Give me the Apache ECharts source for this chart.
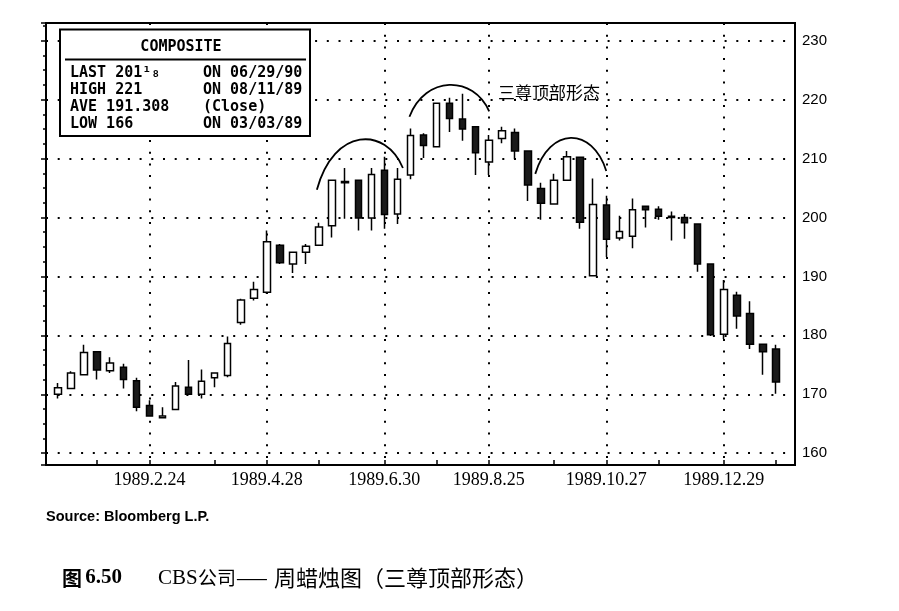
<!DOCTYPE html>
<html><head><meta charset="utf-8">
<script src="https://cdn.jsdelivr.net/npm/echarts@6/dist/echarts.min.js"></script>
<style>html,body{margin:0;padding:0;background:#fff}#c{width:899px;height:611px}</style>
</head><body><div id="c"></div>
<script>
// Weekly candles, CBS 1989
const weeks = ['1989.1.6','1989.1.13','1989.1.20','1989.1.27','1989.2.3','1989.2.10','1989.2.17','1989.2.24',
  '1989.3.3','1989.3.10','1989.3.17','1989.3.24','1989.3.31','1989.4.7','1989.4.14','1989.4.21','1989.4.28',
  '1989.5.5','1989.5.12','1989.5.19','1989.5.26','1989.6.2','1989.6.9','1989.6.16','1989.6.23','1989.6.30',
  '1989.7.7','1989.7.14','1989.7.21','1989.7.28','1989.8.4','1989.8.11','1989.8.18','1989.8.25',
  '1989.9.1','1989.9.8','1989.9.15','1989.9.22','1989.9.29','1989.10.6','1989.10.13','1989.10.20','1989.10.27',
  '1989.11.3','1989.11.10','1989.11.17','1989.11.24','1989.12.1','1989.12.8','1989.12.15','1989.12.22','1989.12.29',
  '1990.1.5','1990.1.12','1990.1.19','1990.1.26'];
const opens  = [170.0,171.0,173.3,177.2,174.0,174.6,172.3,168.1,166.0,167.4,171.2,170.0,172.8,173.2,182.2,186.3,187.3,
  195.3,192.1,194.1,195.3,198.6,205.9,206.3,199.9,208.0,200.6,207.2,214.0,212.0,219.4,216.7,215.4,209.4,
  213.4,214.4,211.3,204.9,202.3,206.3,210.2,190.1,202.1,196.5,196.8,201.9,201.4,200.2,200.0,198.9,192.1,
  180.2,186.8,183.7,178.5,177.7];
const closes = [171.1,173.6,177.1,174.1,175.3,172.5,167.8,166.3,166.3,171.4,170.0,172.2,173.6,178.6,186.0,187.8,195.9,
  192.3,194.1,195.1,198.4,206.3,206.1,199.9,207.3,200.5,206.5,213.9,212.2,219.4,216.8,215.0,211.0,213.1,
  214.7,211.3,205.5,202.4,206.3,210.3,199.2,202.2,196.3,197.6,201.3,201.3,200.2,200.0,199.1,192.1,180.1,
  187.8,183.3,178.5,177.2,172.1];
const lows   = [169.3,171.0,173.3,172.5,173.6,171.0,167.1,166.3,166.0,167.4,170.0,169.3,171.2,172.9,181.8,185.9,187.0,
  192.1,190.6,192.1,195.2,196.6,199.8,197.8,197.8,198.1,198.9,206.5,210.1,212.0,214.5,213.0,207.2,207.2,
  212.6,209.9,202.8,199.6,202.3,206.3,198.1,190.1,193.3,196.1,194.8,198.3,199.6,196.1,196.4,190.8,179.9,
  179.4,181.1,177.7,173.3,170.1];
const highs  = [171.9,173.9,178.4,177.3,176.3,175.2,172.8,169.0,167.8,172.1,175.8,174.2,173.7,179.8,186.2,189.1,197.8,
  195.5,194.1,195.5,199.1,206.4,208.4,206.3,208.4,210.3,208.4,215.1,214.3,219.5,220.3,221.0,215.4,214.0,
  215.4,215.1,211.4,205.9,207.4,211.3,210.2,206.6,203.7,200.3,203.2,201.9,201.9,201.0,200.6,198.9,192.1,
  189.4,187.4,185.8,178.5,178.4];
const labelDates = ['1989.2.24','1989.4.28','1989.6.30','1989.8.25','1989.10.27','1989.12.29'];
const tickDates = ['1989.1.27','1989.2.24','1989.3.31','1989.4.28','1989.5.26','1989.6.30','1989.7.28',
  '1989.8.25','1989.9.29','1989.10.27','1989.11.24','1989.12.29','1990.1.26'];
const yMin = 158, yMax = 233;
// legend box rows
const boxTitle = 'COMPOSITE';
const boxLeft  = ['LAST 201\u00b9\u2088','HIGH 221','AVE 191.308','LOW 166'];
const boxNotes = ['ON 06/29/90','ON 08/11/89','(Close)','ON 03/03/89'];
// three-top arcs: [startIndex, startValue], peakValue, [endIndex, endValue]
const arcStarts = [[19.83,204.7],[26.92,217.1],[36.56,207.4]];
const arcPeaks  = [213.2,222.5,213.5];
const arcEnds   = [[26.42,208.4],[33.03,218.0],[42.0,207.9]];
const patternLabel = '三尊顶部形态';
const sourceText = 'Source: Bloomberg L.P.';

const candles = weeks.map((d, i) => [opens[i], closes[i], lows[i], highs[i]]);
const chart = echarts.init(document.getElementById('c'), null, {renderer: 'canvas'});
const dots = {type: [2, 9.7], width: 2, color: '#000'};

chart.setOption({
  animation: false,
  backgroundColor: '#fff',
  grid: [
    {left: 46, right: 104, top: 23, bottom: 146, show: true, borderColor: '#000', borderWidth: 2, backgroundColor: 'transparent'},
    {left: 58, right: 123, top: 23, bottom: 146}
  ],
  xAxis: [
    {gridIndex: 0, type: 'value', min: 0, max: 1, axisLine: {show: true, lineStyle: {color: '#000', width: 2}},
     axisTick: {show: false}, axisLabel: {show: false}, splitLine: {show: false}},
    {gridIndex: 1, type: 'category', data: weeks, boundaryGap: false,
     axisLine: {show: false},
     axisTick: {show: true, inside: true, length: 5, lineStyle: {color: '#000', width: 1.5},
       interval: (i, v) => tickDates.includes(v)},
     axisLabel: {interval: (i, v) => labelDates.includes(v), color: '#000', fontFamily: 'Liberation Serif',
       fontSize: 18, margin: 6},
     splitLine: {show: true, interval: (i, v) => labelDates.includes(v), lineStyle: dots}}
  ],
  yAxis: [
    {gridIndex: 0, type: 'value', position: 'right', min: yMin, max: yMax, minInterval: 10, maxInterval: 10, splitNumber: 8,
     axisLine: {show: true, lineStyle: {color: '#000', width: 2}},
     axisTick: {show: true, inside: true, length: 5, lineStyle: {color: '#000', width: 1.5}},
     minorTick: {show: true, splitNumber: 4, length: 3, lineStyle: {color: '#000', width: 1.5}},
     axisLabel: {color: '#000', fontFamily: 'Liberation Sans', fontSize: 15, margin: 7,
       formatter: v => (v % 10 === 0 ? String(v) : '')},
     splitLine: {show: true, lineStyle: dots}},
    {gridIndex: 1, type: 'value', min: yMin, max: yMax, show: false}
  ],
  series: [{
    type: 'candlestick', xAxisIndex: 1, yAxisIndex: 1, data: candles, barWidth: 7, clip: false,
    itemStyle: {color: '#fff', color0: '#1a1a1a', borderColor: '#000', borderColor0: '#000', borderWidth: 1.5}
  }]
});

function px(idx, val) {
  const n = weeks.length - 1;
  const a = chart.convertToPixel({xAxisIndex: 1, yAxisIndex: 1}, [0, val]);
  const b = chart.convertToPixel({xAxisIndex: 1, yAxisIndex: 1}, [n, val]);
  return [a[0] + (b[0] - a[0]) * idx / n, a[1]];
}

const g = [];
arcStarts.forEach((s, k) => {
  const S = px(s[0], s[1]);
  const E = px(arcEnds[k][0], arcEnds[k][1]);
  const P = px((s[0] + arcEnds[k][0]) / 2, arcPeaks[k]);
  const cy = (P[1] - (S[1] + E[1]) / 8) / 0.75;
  const w = E[0] - S[0];
  g.push({type: 'bezierCurve', z: 50,
    shape: {x1: S[0], y1: S[1], x2: E[0], y2: E[1], cpx1: S[0] + 0.2 * w, cpy1: cy, cpx2: E[0] - 0.2 * w, cpy2: cy},
    style: {stroke: '#000', lineWidth: 1.8, fill: null}});
});
g.push({type: 'text', z: 50, x: 498, y: 93, style: {text: patternLabel, fill: '#000',
  font: '17px "Noto Sans CJK SC"', verticalAlign: 'middle', align: 'left'}});

// legend box
const bf = 'bold 15px "DejaVu Sans Mono"';
g.push({type: 'rect', z: 60, shape: {x: 60, y: 29.5, width: 250, height: 106.5},
  style: {fill: '#fff', stroke: '#000', lineWidth: 2}});
g.push({type: 'text', z: 61, x: 181, y: 47, style: {text: boxTitle, fill: '#000',
  font: bf, align: 'center', verticalAlign: 'middle'}});
g.push({type: 'line', z: 61, shape: {x1: 65, y1: 59.5, x2: 306, y2: 59.5}, style: {stroke: '#000', lineWidth: 2}});
boxLeft.forEach((t, r) => {
  const y = 73.5 + r * 16.9;
  g.push({type: 'text', z: 61, x: 70, y: y, style: {text: t, fill: '#000', font: bf, verticalAlign: 'middle'}});
  g.push({type: 'text', z: 61, x: 203, y: y, style: {text: boxNotes[r], fill: '#000', font: bf, verticalAlign: 'middle'}});
});

// source and caption
g.push({type: 'text', x: 46, y: 517, style: {text: sourceText, fill: '#000',
  font: 'bold 14.5px "Liberation Sans"', verticalAlign: 'middle'}});
g.push({type: 'text', x: 62, y: 578, style: {text: '{a|图} {b|6.50}', verticalAlign: 'middle',
  rich: {a: {font: 'bold 20px "Noto Sans CJK SC"', fill: '#000'}, b: {font: 'bold 21px "Liberation Serif"', fill: '#000'}}}});
g.push({type: 'text', x: 158, y: 578, style: {text: 'CBS', fill: '#000', font: '21px "Liberation Serif"', verticalAlign: 'middle'}});
g.push({type: 'text', x: 198, y: 578, style: {text: '公司——', fill: '#000', font: '19px "Noto Sans CJK SC"', verticalAlign: 'middle'}});
g.push({type: 'text', x: 274, y: 578, style: {text: '周蜡烛图（三尊顶部形态）', fill: '#000', font: '22px "Noto Sans CJK SC"', verticalAlign: 'middle'}});

chart.setOption({graphic: g});
</script></body></html>
